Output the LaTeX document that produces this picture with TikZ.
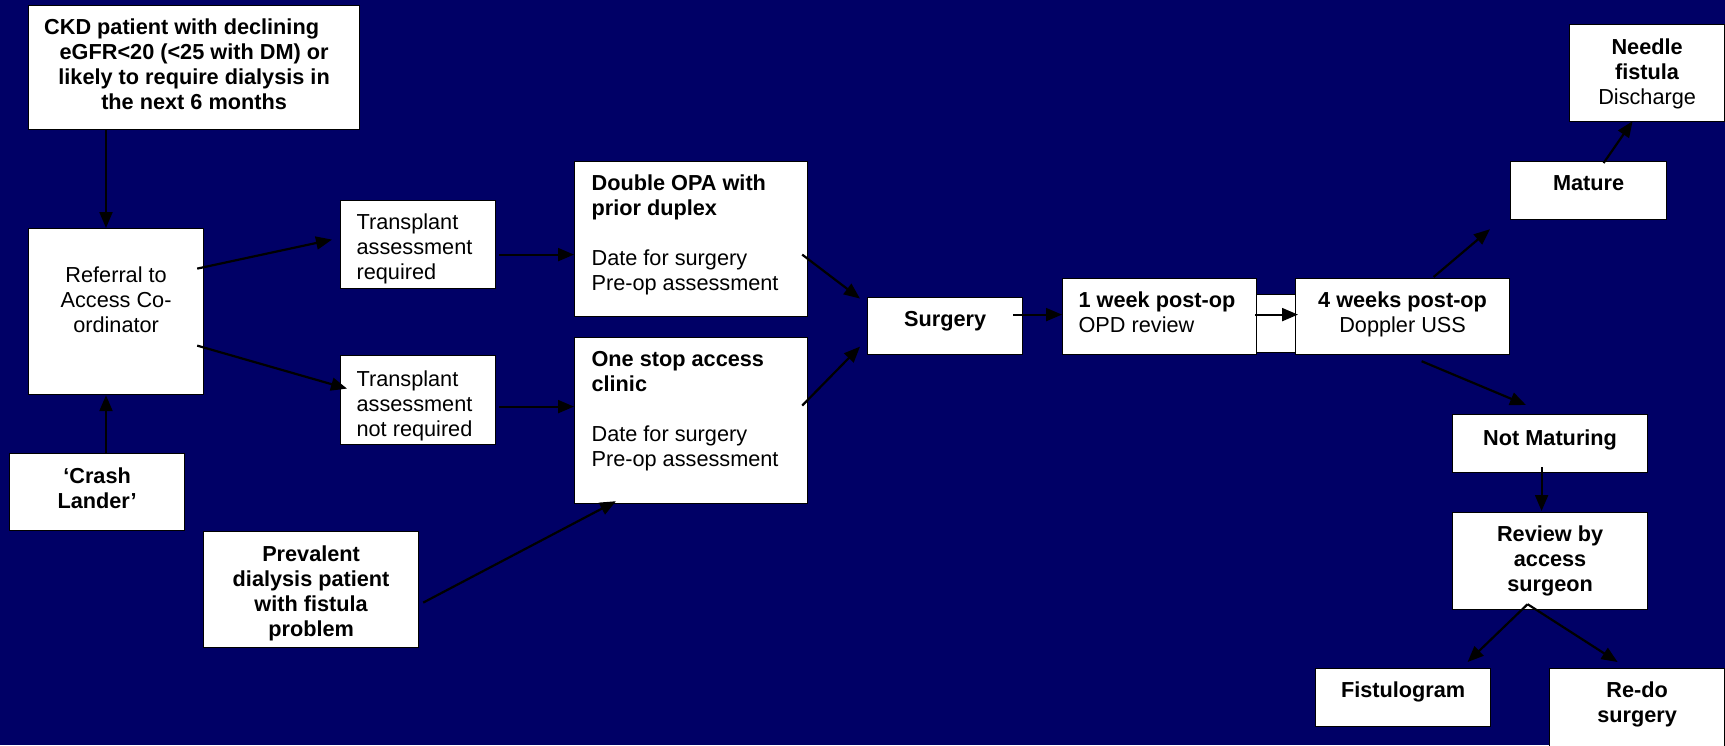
\documentclass[tikz,border=0pt]{standalone}
\usepackage{fontspec}
\setmainfont{Liberation Sans}
\usetikzlibrary{arrows.meta,calc}
\definecolor{bgc}{RGB}{0,0,102}
\newcommand{\bxt}[4]{\parbox[c][#2pt][t]{#1pt}{\vspace*{#3pt}#4}}
\newcommand{\lft}[1]{\raggedright\leftskip=#1pt\relax}
\tikzset{
 box/.style={draw=black, line width=1.2pt, fill=white, inner sep=0pt, anchor=north west, font=\fontsize{21.7}{25}\selectfont},
 arr/.style={line width=2.2pt, -{Triangle[length=16pt,width=13pt]}},
}
\begin{document}
\begin{tikzpicture}[x=1pt,y=-1pt]
\fill[bgc] (0,0) rectangle (1725,745);
\useasboundingbox (0,0) rectangle (1725,745);

\node[box] (ckd) at (28,5) {\bxt{331}{124}{11}{\centering\bfseries\strut CKD patient with declining\kern25pt\\eGFR<20 (<25 with DM) or\\likely to require dialysis in\\the next 6 months}};
\node[box] (ref) at (28,228) {\bxt{175}{166}{36}{\centering\strut Referral to\\Access Co-\\ordinator}};
\node[box] (crash) at (9,453) {\bxt{175}{77}{12}{\centering\bfseries\strut ‘Crash\\Lander’}};
\node[box] (prev) at (203,531) {\bxt{215}{116}{12}{\centering\bfseries\strut Prevalent\\dialysis patient\\with fistula\\problem}};
\node[box] (tr) at (340,200) {\bxt{155}{88}{11}{\lft{16}\strut Transplant\\assessment\\required}};
\node[box] (tnr) at (340,355) {\bxt{155}{89}{13}{\lft{16}\strut Transplant\\assessment\\not required}};
\node[box] (dbl) at (574,161) {\bxt{233}{155}{11}{\lft{17}\strut\textbf{Double OPA with}\\\textbf{prior duplex}\\[25pt]Date for surgery\\Pre-op assessment}};
\node[box] (one) at (574,337) {\bxt{233}{166}{11}{\lft{17}\strut\textbf{One stop access}\\\textbf{clinic}\\[25pt]Date for surgery\\Pre-op assessment}};
\node[box] (surg) at (867,297) {\bxt{155}{57}{11}{\centering\bfseries\strut Surgery}};
\node[box, minimum width=39pt, minimum height=58pt] (gap) at (1256,294) {};
\node[box] (wk1) at (1062,278) {\bxt{194}{76}{11}{\lft{16}\strut\textbf{1 week post-op}\\OPD review}};
\node[box] (wk4) at (1295,278) {\bxt{214}{76}{11}{\centering\strut\textbf{4 weeks post-op}\\Doppler USS}};
\node[box] (mat) at (1510,161) {\bxt{156}{58}{11}{\centering\bfseries\strut Mature}};
\node[box] (ndl) at (1569,24) {\bxt{155}{97}{12}{\centering\strut\textbf{Needle}\\\textbf{fistula}\\Discharge}};
\node[box] (nm) at (1452,414) {\bxt{195}{58}{13}{\centering\bfseries\strut Not Maturing}};
\node[box] (rev) at (1452,512) {\bxt{195}{97}{11}{\centering\bfseries\strut Review by\\access\\surgeon}};
\node[box] (fis) at (1315,668) {\bxt{175}{58}{11}{\centering\bfseries\strut Fistulogram}};
\node[box] (redo) at (1549,668) {\bxt{175}{92}{11}{\centering\bfseries\strut Re-do\\surgery}};

\draw[arr] ($(ckd.south west)+(78,0)$) -- ($(ref.north west)+(78,0)$);
\draw[arr] ($(crash.north west)+(97,0)$) -- ($(ref.south west)+(78,0)$);
\draw[arr] ($(ref.east)+(-7,-43)$) -- ($(tr.west)+(-8,-5)$);
\draw[arr] ($(ref.east)+(-7,34)$) -- ($(tnr.west)+(7,-11.5)$);
\draw[arr] ($(tr.east)+(3,10)$) -- ($(dbl.west)+(0,15.5)$);
\draw[arr] ($(tnr.east)+(3,6.5)$) -- ($(one.west)+(0,-14)$);
\draw[arr] ($(dbl.east)+(-6,15.5)$) -- ($(surg.west)+(-7,-27.5)$);
\draw[arr] ($(one.east)+(-6,-15)$) -- ($(surg.west)+(-7,20.5)$);
\draw[arr] ($(prev.east)+(4,13)$) -- ($(one.south west)+(42,-3)$);
\draw[arr] ($(surg.east)+(-10,-11.5)$) -- ($(wk1.west)+(0,-2)$);
\draw[arr] ($(wk1.east)+(-2,-2)$) -- ($(wk4.west)+(3,-2)$);
\draw[arr] ($(wk4.north)+(31,-1)$) -- ($(mat.south west)+(-20,9)$);
\draw[arr] ($(wk4.south)+(19,6)$) -- ($(nm.north west)+(74,-9)$);
\draw[arr] ($(mat.north)+(15,2)$) -- ($(ndl.south)+(-14.5,-1)$);
\draw[arr] ($(nm.south)+(-8.5,-6)$) -- ($(rev.north)+(-8.5,-1)$);
\draw[arr] ($(rev.south)+(-22.5,-6)$) -- ($(fis.north)+(64.5,-6)$);
\draw[arr] ($(rev.south)+(-22.5,-6)$) -- ($(redo.north)+(-19.5,-6)$);
\end{tikzpicture}
\end{document}
